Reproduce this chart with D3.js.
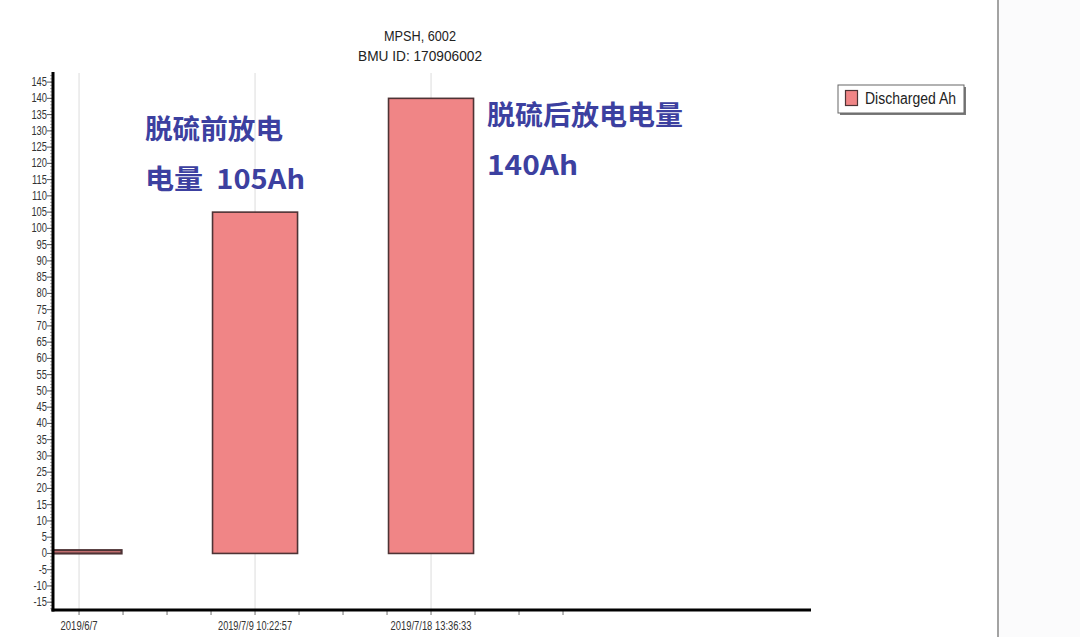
<!DOCTYPE html>
<html><head><meta charset="utf-8">
<script src="https://cdn.jsdelivr.net/npm/d3@7"></script>
<style>html,body{margin:0;padding:0;background:#fff;}svg{display:block;}</style>
</head><body>
<svg id="chart" width="1080" height="637"></svg>
<script>
// ---- data ----
const categories = ["2019/6/7", "2019/7/9 10:22:57", "2019/7/18 13:36:33"];
const dischargedAh = [1, 105, 140];
const yTickValues = [-15,-10,-5,0,5,10,15,20,25,30,35,40,45,50,55,60,65,70,75,80,85,90,95,100,105,110,115,120,125,130,135,140,145];
const xMinorTicks = [0,0.25,0.5,0.75,1,1.25,1.5,1.75,2,2.25,2.5,2.75];
const titleLines = ["MPSH, 6002", "BMU ID: 170906002"];
const legendLabel = "Discharged Ah";
const notes = [
  {lines: ["脱硫前放电", "电量  105Ah"]},
  {lines: ["脱硫后放电电量", "140Ah"]}
];

// ---- layout ----
const svg = d3.select("#chart");
const L = 53, R = 811, T = 73, B = 610;
const x = d3.scaleLinear().domain([-0.148, 4.159]).range([L, R]);
const y = d3.scaleLinear().domain([-17.4, 147.8]).range([B, T]);
const barW = 0.483;

// right panel
svg.append("rect").attr("x", 999).attr("y", 0).attr("width", 81).attr("height", 637).attr("fill", "#fbfbfc");
svg.append("line").attr("x1", 998).attr("x2", 998).attr("y1", 0).attr("y2", 637)
  .attr("stroke", "#a3a3a3").attr("stroke-width", 2);

// title
const tg = svg.append("g").attr("font-family", "Liberation Sans, Arial, sans-serif").attr("fill", "#222");
tg.append("text").attr("x", 420).attr("y", 41).attr("text-anchor", "middle").attr("font-size", 15)
  .attr("textLength", 72).attr("lengthAdjust", "spacingAndGlyphs").text(titleLines[0]);
tg.append("text").attr("x", 420).attr("y", 61).attr("text-anchor", "middle").attr("font-size", 15)
  .attr("textLength", 124).attr("lengthAdjust", "spacingAndGlyphs").text(titleLines[1]);

// clip
svg.append("clipPath").attr("id", "plotclip").append("rect")
  .attr("x", L).attr("y", T).attr("width", R - L).attr("height", B - T);

// grid lines
svg.append("g").selectAll("line").data(categories).join("line")
  .attr("x1", (d, i) => x(i)).attr("x2", (d, i) => x(i))
  .attr("y1", T).attr("y2", B).attr("stroke", "#dcdcdc").attr("stroke-width", 1);

// bars
svg.append("g").attr("clip-path", "url(#plotclip)").selectAll("rect").data(dischargedAh).join("rect")
  .attr("x", (d, i) => x(i - barW / 2)).attr("width", (d, i) => x(i + barW / 2) - x(i - barW / 2))
  .attr("y", d => y(Math.max(d, 0))).attr("height", d => Math.abs(y(d) - y(0)))
  .attr("fill", "#f08586").attr("stroke", "#4e3335").attr("stroke-width", (d) => d < 5 ? 2.2 : 1.6);

// y axis minor ticks
const minor = d3.range(-17, 148, 1);
svg.append("g").selectAll("line").data(minor).join("line")
  .attr("x1", L - 3).attr("x2", L).attr("y1", d => y(d)).attr("y2", d => y(d))
  .attr("stroke", "#888").attr("stroke-width", 0.7);
// y axis major ticks + labels
const yg = svg.append("g");
yg.selectAll("line").data(yTickValues).join("line")
  .attr("x1", L - 6).attr("x2", L).attr("y1", d => y(d)).attr("y2", d => y(d))
  .attr("stroke", "#555").attr("stroke-width", 1);
yg.selectAll("text").data(yTickValues).join("text")
  .attr("transform", d => `translate(${L - 6},${y(d) + 4}) scale(0.78,1)`)
  .attr("text-anchor", "end").attr("font-family", "Liberation Sans, Arial, sans-serif")
  .attr("font-size", 12).attr("fill", "#333").text(d => d);

// x axis ticks
svg.append("g").selectAll("line").data(xMinorTicks).join("line")
  .attr("x1", d => x(d)).attr("x2", d => x(d)).attr("y1", B).attr("y2", B + 5)
  .attr("stroke", "#888").attr("stroke-width", 1.2);
const xLabelW = [37, 74, 81];
svg.append("g").selectAll("text").data(categories).join("text")
  .attr("x", (d, i) => x(i)).attr("y", 630).attr("text-anchor", "middle")
  .attr("font-family", "Liberation Sans, Arial, sans-serif").attr("font-size", 12.5).attr("fill", "#333")
  .attr("textLength", (d, i) => xLabelW[i]).attr("lengthAdjust", "spacingAndGlyphs").text(d => d);

// axis lines
svg.append("line").attr("x1", L).attr("x2", L).attr("y1", T - 1).attr("y2", B + 1.5)
  .attr("stroke", "#000").attr("stroke-width", 3);
svg.append("line").attr("x1", L - 1.5).attr("x2", R).attr("y1", B).attr("y2", B)
  .attr("stroke", "#000").attr("stroke-width", 3);

// legend
const lg = svg.append("g");
lg.append("rect").attr("x", 840).attr("y", 87).attr("width", 126).attr("height", 28).attr("fill", "#7a7a7a");
lg.append("rect").attr("x", 838).attr("y", 85).attr("width", 126).attr("height", 28)
  .attr("fill", "#fff").attr("stroke", "#666").attr("stroke-width", 1);
lg.append("rect").attr("x", 845.5).attr("y", 90.5).attr("width", 12).attr("height", 15)
  .attr("fill", "#f08586").attr("stroke", "#4e3335").attr("stroke-width", 1.2);
lg.append("text").attr("x", 865).attr("y", 104).attr("font-family", "Liberation Sans, Arial, sans-serif")
  .attr("font-size", 16).attr("fill", "#222").attr("textLength", 91).attr("lengthAdjust", "spacingAndGlyphs")
  .text(legendLabel);

// annotations
const notePos = [{x: 145, y: [139, 189]}, {x: 487, y: [125, 175]}];
const noteW = [[138, 160], [196, 91]];
notes.forEach((n, k) => {
  n.lines.forEach((ln, j) => {
    svg.append("text").attr("x", notePos[k].x).attr("y", notePos[k].y[j])
      .attr("font-family", "Noto Sans CJK SC, sans-serif").attr("font-weight", "bold")
      .attr("font-size", 27).attr("fill", "#3c40a0").attr("xml:space", "preserve")
      .attr("textLength", noteW[k][j]).attr("lengthAdjust", "spacingAndGlyphs")
      .style("white-space", "pre").text(ln);
  });
});
</script>
</body></html>
